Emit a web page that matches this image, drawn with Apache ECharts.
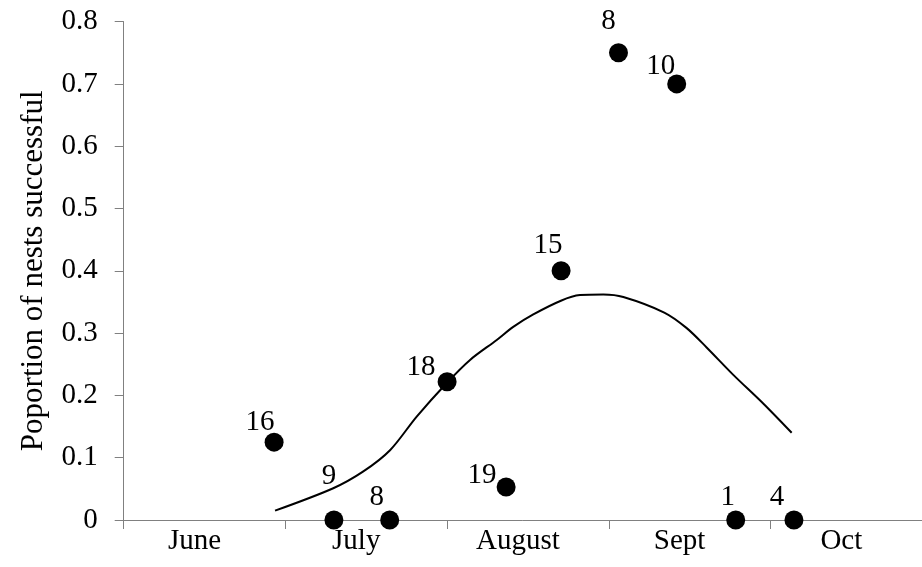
<!DOCTYPE html>
<html>
<head>
<meta charset="utf-8">
<script src="https://cdn.jsdelivr.net/npm/echarts@6/dist/echarts.min.js"></script>
<style>
  html, body { margin: 0; padding: 0; background: #fff; }
  #chart { width: 922px; height: 567px; }
</style>
</head>
<body>
<div id="chart"></div>
<script>
// Month names, placed midway between month boundaries
const months = ['June', 'July', 'August', 'Sept', 'Oct'];
const monthBoundaries = [0, 1, 2, 3, 4];
const monthMidpoints = [0.5, 1.5, 2.5, 3.5, 4.5];

// Sampling dates, in months counted from 1 June
const sampleMonth = [0.93, 1.30, 1.645, 2.0, 2.365, 2.705, 3.06, 3.42, 3.785, 4.145];

// Proportion of nests successful at each sampling date
const successRate = [0.125, 0, 0, 0.222, 0.053, 0.4, 0.75, 0.7, 0, 0];

// Number of nests monitored at each date
const nestCounts = [16, 9, 8, 18, 19, 15, 8, 10, 1, 4];

// Fitted seasonal trend, traced along the season
const curveMonth = [0.936, 1.296, 1.482, 1.647, 1.812, 1.998, 2.142, 2.307, 2.409, 2.533,
                    2.704, 2.822, 2.966, 3.09, 3.343, 3.482, 3.605, 3.77, 3.955, 4.131];
const curveRate  = [0.015, 0.051, 0.078, 0.112, 0.166, 0.22, 0.257, 0.289, 0.31, 0.33,
                    0.352, 0.361, 0.362, 0.358, 0.333, 0.308, 0.277, 0.233, 0.187, 0.14];

// Axis extents and y-axis ticks
const xExtent = { min: 0, max: 4.937 };
const yTicks = { min: 0, max: 0.8, step: 0.1 };

// Label placement around each marker (centre offset in px)
const labelShift = [
  [-14, -20], [-5, -44], [-13, -23], [-26, -14], [-24, -12],
  [-13, -25], [-10, -31], [-16, -18], [-8, -23], [-17, -23]
];

const FONT = '"Liberation Serif", "Times New Roman", serif';
const AXIS = '#808080';

const points = sampleMonth.map((m, i) => ({
  value: [m, successRate[i]],
  label: { offset: labelShift[i] }
}));
const trend = curveMonth.map((m, i) => [m, curveRate[i]]);

const chart = echarts.init(document.getElementById('chart'), null, { renderer: 'canvas' });
chart.setOption({
  animation: false,
  backgroundColor: '#fff',
  grid: { left: 123.7, right: 0, top: 21.6, bottom: 47, containLabel: false },
  xAxis: {
    type: 'value',
    min: xExtent.min, max: xExtent.max,
    axisLine: { show: true, lineStyle: { color: AXIS, width: 1 } },
    axisTick: { show: true, length: 9, lineStyle: { color: AXIS }, customValues: monthBoundaries },
    axisLabel: {
      fontFamily: FONT, fontSize: 29, color: '#000', margin: 7,
      padding: [0, 20, 0, 0],
      customValues: monthMidpoints,
      formatter: v => months[Math.round(v - 0.5)] || ''
    },
    splitLine: { show: false }
  },
  yAxis: {
    type: 'value',
    min: yTicks.min, max: yTicks.max, interval: yTicks.step,
    name: 'Poportion of nests successful',
    nameLocation: 'middle',
    nameGap: 74,
    nameTextStyle: { fontFamily: FONT, fontSize: 31, color: '#000' },
    axisLine: { show: true, lineStyle: { color: AXIS, width: 1 } },
    axisTick: { show: true, length: 9, lineStyle: { color: AXIS } },
    axisLabel: {
      fontFamily: FONT, fontSize: 29, color: '#000', margin: 26,
      formatter: v => String(Math.round(v * 10) / 10)
    },
    splitLine: { show: false }
  },
  series: [
    {
      type: 'line',
      data: trend,
      smooth: 0.3,
      showSymbol: false,
      lineStyle: { color: '#000', width: 2 },
      z: 2
    },
    {
      type: 'scatter',
      data: points,
      symbol: 'circle',
      symbolSize: 19,
      itemStyle: { color: '#000', opacity: 1 },
      label: {
        show: true,
        position: 'inside',
        color: '#000',
        fontFamily: FONT,
        fontSize: 29,
        formatter: p => String(nestCounts[p.dataIndex])
      },
      z: 3
    }
  ]
});
</script>
</body>
</html>
